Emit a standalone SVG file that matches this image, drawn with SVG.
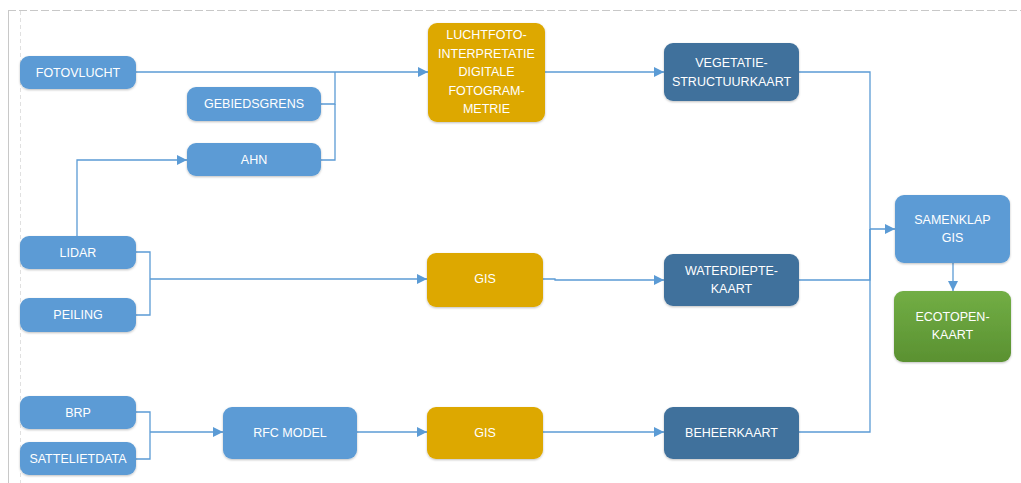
<svg xmlns="http://www.w3.org/2000/svg" width="1021" height="483" viewBox="0 0 1021 483">
<defs>
<style>
.n text{font-family:"Liberation Sans",Arial,sans-serif;font-size:12.5px;fill:#ffffff;text-anchor:middle;dominant-baseline:central}
.lb{fill:#5B9BD5}
.gd{fill:#DDA800}
.db{fill:#41719C}
.c{fill:none;stroke:#5B9BD5;stroke-width:1.3}
.sh{filter:url(#sh)}
</style>
<filter id="sh" x="-10%" y="-10%" width="120%" height="130%">
<feDropShadow dx="0" dy="1" stdDeviation="1.2" flood-color="#000" flood-opacity="0.25"/>
</filter>
<linearGradient id="gr" x1="0" y1="0" x2="0" y2="1">
<stop offset="0" stop-color="#72AE45"/>
<stop offset="1" stop-color="#5A9131"/>
</linearGradient>
<marker id="ah" viewBox="0 0 10 10" refX="10" refY="5" markerWidth="10" markerHeight="10" markerUnits="userSpaceOnUse" orient="auto">
<path d="M0,0 L10,5 L0,10 Z" fill="#5B9BD5"/>
</marker>
</defs>
<rect width="1021" height="483" fill="#ffffff"/>
<g id="frame">
<line x1="8.5" y1="10" x2="8.5" y2="483" stroke="#c8c8c8" stroke-width="1"/>
<line x1="8" y1="10.5" x2="1021" y2="10.5" stroke="#c8c8c8" stroke-width="1.2" stroke-dasharray="8,3"/>
<line x1="20.5" y1="11" x2="20.5" y2="483" stroke="#e0e0e0" stroke-width="1" stroke-dasharray="4,3"/>
</g>
<g id="connectors">
<path class="c" d="M136,72 H428" marker-end="url(#ah)"/>
<path class="c" d="M321,104 H335 V72"/>
<path class="c" d="M321,160 H335 V104"/>
<path class="c" d="M77,236 V160 H187" marker-end="url(#ah)"/>
<path class="c" d="M545,72 H664" marker-end="url(#ah)"/>
<path class="c" d="M799,72 H870 V229 H895" marker-end="url(#ah)"/>
<path class="c" d="M799,280 H870 V229"/>
<path class="c" d="M799,432 H870 V229"/>
<path class="c" d="M953,263 V291" marker-end="url(#ah)"/>
<path class="c" d="M136,252 H150 V315 H136"/>
<path class="c" d="M150,279 H427" marker-end="url(#ah)"/>
<path class="c" d="M543,279 H555 V280 H664" marker-end="url(#ah)"/>
<path class="c" d="M136,412 H150 V459 H136"/>
<path class="c" d="M150,432 H223" marker-end="url(#ah)"/>
<path class="c" d="M357,432 H427" marker-end="url(#ah)"/>
<path class="c" d="M533,432 H664" marker-end="url(#ah)"/>
</g>
<g id="fotovlucht" class="n"><rect class="lb sh" x="20" y="56" width="116" height="33" rx="9"/><text x="78" y="72.5">FOTOVLUCHT</text></g>
<g id="gebiedsgrens" class="n"><rect class="lb sh" x="187" y="87" width="134" height="34" rx="9"/><text x="254" y="104">GEBIEDSGRENS</text></g>
<g id="ahn" class="n"><rect class="lb sh" x="187" y="143" width="134" height="33" rx="9"/><text x="254" y="159.5">AHN</text></g>
<g id="luchtfoto" class="n"><rect class="gd sh" x="428" y="23" width="117" height="99" rx="9"/>
<text x="486.5" y="35">LUCHTFOTO-</text><text x="486.5" y="54">INTERPRETATIE</text><text x="486.5" y="72">DIGITALE</text><text x="486.5" y="91">FOTOGRAM-</text><text x="486.5" y="109">METRIE</text></g>
<g id="vegetatie" class="n"><rect class="db sh" x="664" y="43" width="135" height="58" rx="9"/><text x="731.5" y="63">VEGETATIE-</text><text x="731.5" y="82">STRUCTUURKAART</text></g>
<g id="lidar" class="n"><rect class="lb sh" x="20" y="236" width="116" height="33" rx="9"/><text x="78" y="252.5">LIDAR</text></g>
<g id="peiling" class="n"><rect class="lb sh" x="20" y="298" width="116" height="34" rx="9"/><text x="78" y="315">PEILING</text></g>
<g id="gis1" class="n"><rect class="gd sh" x="427" y="253" width="116" height="54" rx="9"/><text x="485" y="279">GIS</text></g>
<g id="waterdiepte" class="n"><rect class="db sh" x="664" y="254" width="135" height="52" rx="9"/><text x="731.5" y="271">WATERDIEPTE-</text><text x="731.5" y="289">KAART</text></g>
<g id="samenklap" class="n"><rect class="lb sh" x="895" y="195" width="115" height="68" rx="9"/><text x="952.5" y="220">SAMENKLAP</text><text x="952.5" y="238">GIS</text></g>
<g id="ecotopen" class="n"><rect fill="url(#gr)" class="sh" x="894" y="291" width="117" height="71" rx="9"/><text x="952.5" y="317">ECOTOPEN-</text><text x="952.5" y="335">KAART</text></g>
<g id="brp" class="n"><rect class="lb sh" x="20" y="396" width="116" height="33" rx="9"/><text x="78" y="412.5">BRP</text></g>
<g id="sattelietdata" class="n"><rect class="lb sh" x="20" y="442" width="116" height="33" rx="9"/><text x="78" y="458.5">SATTELIETDATA</text></g>
<g id="rfc" class="n"><rect class="lb sh" x="223" y="407" width="134" height="52" rx="9"/><text x="290" y="432.5">RFC MODEL</text></g>
<g id="gis2" class="n"><rect class="gd sh" x="427" y="407" width="116" height="52" rx="9"/><text x="485" y="432.5">GIS</text></g>
<g id="beheerkaart" class="n"><rect class="db sh" x="664" y="407" width="135" height="52" rx="9"/><text x="731.5" y="432.5">BEHEERKAART</text></g>
</svg>
